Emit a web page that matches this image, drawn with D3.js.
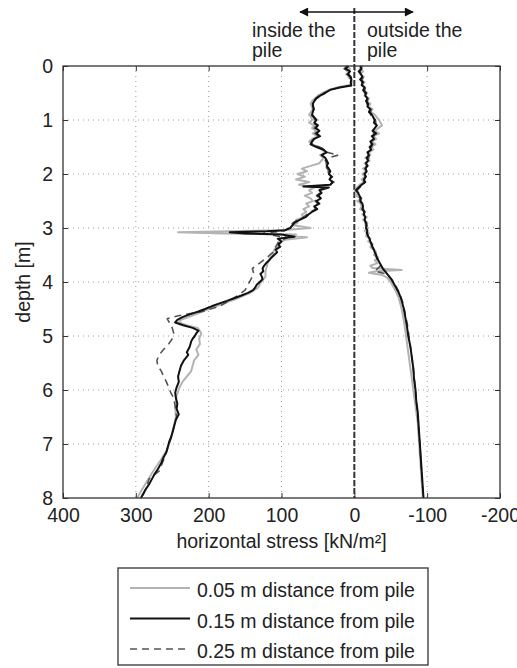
<!DOCTYPE html>
<html>
<head>
<meta charset="utf-8">
<style>
  html, body { margin: 0; padding: 0; background: #fff; }
  svg { display: block; font-family: "Liberation Sans", Arial, sans-serif; }
</style>
</head>
<body>
<div id="chart"></div>
<script src="https://cdn.jsdelivr.net/npm/d3@7"></script>
<script>
// [depth m, horizontal stress kN/m2]; positive = inside the pile, negative = outside
var inside05 = [[0,12],[0.05,6],[0.1,10],[0.15,7],[0.2,8],[0.25,5],[0.3,3],[0.35,6],[0.4,25],[0.45,36],[0.5,44],[0.55,50],[0.6,54],[0.65,58],[0.7,60],[0.8,57],[0.9,62],[0.95,59],[1,58],[1.05,62],[1.1,55],[1.15,58],[1.2,52],[1.25,57],[1.3,50],[1.35,58],[1.4,62],[1.45,57],[1.5,50],[1.55,45],[1.6,40],[1.65,47],[1.7,42],[1.75,45],[1.8,48],[1.85,60],[1.9,72],[1.95,65],[2,78],[2.05,68],[2.1,80],[2.15,62],[2.2,76],[2.25,55],[2.3,62],[2.35,58],[2.4,68],[2.45,60],[2.5,57],[2.55,66],[2.6,62],[2.65,70],[2.7,66],[2.75,72],[2.8,70],[2.85,80],[2.9,78],[2.95,84],[3,60],[3.04,100],[3.08,242],[3.1,180],[3.12,80],[3.15,95],[3.17,65],[3.22,95],[3.25,100],[3.3,103],[3.4,110],[3.5,112],[3.6,118],[3.7,120],[3.8,122],[3.9,122],[4,128],[4.1,132],[4.2,143],[4.3,160],[4.4,180],[4.5,200],[4.6,218],[4.7,238],[4.75,241],[4.8,230],[4.85,215],[4.95,210],[5.05,213],[5.15,212],[5.25,217],[5.35,214],[5.45,220],[5.55,222],[5.65,224],[5.75,230],[5.85,236],[5.95,240],[6.1,244],[6.3,246],[6.5,245],[6.7,248],[6.9,252],[7.1,257],[7.3,266],[7.5,276],[7.7,285],[7.9,294],[8,298]];

var inside15 = [[0,8],[0.05,12],[0.1,6],[0.15,9],[0.2,5],[0.25,4],[0.3,5],[0.36,4],[0.4,20],[0.44,33],[0.5,40],[0.55,47],[0.6,52],[0.65,55],[0.7,57],[0.8,56],[0.9,58],[0.95,55],[1,52],[1.05,55],[1.1,50],[1.15,53],[1.2,48],[1.25,52],[1.3,47],[1.35,55],[1.4,58],[1.45,60],[1.5,52],[1.55,42],[1.6,38],[1.65,45],[1.7,40],[1.75,38],[1.8,36],[1.85,38],[1.9,35],[1.95,33],[2,35],[2.05,31],[2.1,34],[2.15,30],[2.2,33],[2.23,70],[2.25,35],[2.3,48],[2.35,45],[2.4,50],[2.45,46],[2.5,52],[2.55,48],[2.6,55],[2.65,51],[2.7,58],[2.75,63],[2.8,67],[2.85,75],[2.9,82],[2.95,85],[3,88],[3.04,95],[3.06,120],[3.08,171],[3.1,150],[3.12,100],[3.16,82],[3.2,105],[3.25,100],[3.3,104],[3.35,102],[3.4,108],[3.45,106],[3.5,110],[3.55,114],[3.6,117],[3.65,121],[3.7,124],[3.75,126],[3.8,125],[3.85,129],[3.9,127],[3.95,126],[4,130],[4.05,134],[4.1,136],[4.15,139],[4.2,146],[4.25,155],[4.3,165],[4.35,175],[4.4,186],[4.45,196],[4.5,205],[4.55,215],[4.6,226],[4.65,236],[4.7,243],[4.75,246],[4.8,235],[4.85,222],[4.9,214],[4.95,217],[5,219],[5.05,222],[5.1,224],[5.2,226],[5.3,230],[5.35,228],[5.45,234],[5.55,238],[5.65,240],[5.75,242],[5.85,241],[5.95,244],[6.05,246],[6.15,245],[6.25,243],[6.35,244],[6.45,241],[6.55,245],[6.65,247],[6.75,249],[6.85,251],[6.95,254],[7.05,256],[7.15,258],[7.25,262],[7.35,265],[7.45,269],[7.55,274],[7.65,278],[7.75,282],[7.85,287],[7.95,291],[8,293]];

var inside25 = [[0,10],[0.05,14],[0.1,8],[0.15,11],[0.2,6],[0.25,7],[0.3,4],[0.36,5],[0.4,22],[0.45,34],[0.5,42],[0.55,48],[0.6,53],[0.65,56],[0.7,58],[0.8,55],[0.9,60],[0.95,56],[1,54],[1.05,57],[1.1,52],[1.15,55],[1.2,50],[1.25,54],[1.3,49],[1.35,56],[1.4,59],[1.45,58],[1.5,48],[1.55,40],[1.6,37],[1.65,22],[1.7,36],[1.75,40],[1.8,38],[1.85,42],[1.9,37],[1.95,35],[2,38],[2.05,30],[2.1,36],[2.15,28],[2.2,34],[2.25,40],[2.3,50],[2.35,47],[2.4,52],[2.45,48],[2.5,54],[2.55,50],[2.6,56],[2.65,53],[2.7,60],[2.75,65],[2.8,70],[2.85,78],[2.9,84],[2.95,87],[3,90],[3.05,96],[3.1,125],[3.14,110],[3.18,92],[3.25,104],[3.35,108],[3.45,112],[3.55,120],[3.65,130],[3.75,140],[3.85,138],[3.95,142],[4.05,146],[4.15,150],[4.25,160],[4.35,172],[4.45,185],[4.55,210],[4.62,240],[4.68,257],[4.75,254],[4.85,250],[4.95,248],[5.05,250],[5.15,255],[5.25,262],[5.35,268],[5.45,271],[5.55,270],[5.65,265],[5.75,262],[5.85,258],[5.95,255],[6.05,252],[6.15,248],[6.3,246],[6.5,244],[6.7,248],[6.9,252],[7.1,257],[7.3,262],[7.5,268],[7.65,282],[7.8,285],[8,292]];

var outside05 = [[0,-12],[0.05,-7],[0.1,-12],[0.15,-8],[0.2,-13],[0.25,-9],[0.3,-14],[0.35,-11],[0.4,-15],[0.45,-13],[0.5,-18],[0.55,-14],[0.6,-20],[0.65,-17],[0.7,-22],[0.75,-19],[0.8,-25],[0.85,-22],[0.9,-28],[0.95,-31],[1,-34],[1.05,-36],[1.1,-38],[1.15,-33],[1.2,-28],[1.25,-34],[1.3,-26],[1.35,-30],[1.4,-24],[1.45,-29],[1.5,-23],[1.55,-26],[1.6,-20],[1.65,-22],[1.7,-15],[1.75,-21],[1.8,-14],[1.85,-19],[1.9,-12],[1.95,-16],[2,-11],[2.05,-15],[2.1,-10],[2.15,-13],[2.2,-7],[2.25,-4],[2.3,-1],[2.35,-6],[2.4,-2],[2.45,-10],[2.5,-4],[2.55,-9],[2.6,-10],[2.65,-8],[2.7,-15],[2.75,-11],[2.8,-17],[2.85,-12],[2.9,-18],[2.95,-15],[3,-19],[3.05,-14],[3.1,-20],[3.15,-16],[3.2,-22],[3.25,-19],[3.3,-25],[3.35,-22],[3.4,-26],[3.45,-30],[3.5,-27],[3.55,-33],[3.6,-28],[3.65,-32],[3.7,-22],[3.74,-25],[3.78,-65],[3.8,-30],[3.83,-20],[3.87,-38],[3.92,-45],[4,-50],[4.1,-54],[4.2,-58],[4.3,-61],[4.4,-63],[4.5,-65],[4.65,-67],[4.8,-69],[5,-71],[5.2,-73],[5.4,-75],[5.6,-77],[5.8,-79],[6,-81],[6.2,-83],[6.4,-85],[6.6,-87],[6.8,-88],[7,-89],[7.2,-90],[7.4,-91],[7.6,-92],[7.8,-93],[8,-94]];

var outside15 = [[0,-8],[0.05,-10],[0.1,-6],[0.15,-9],[0.2,-11],[0.25,-8],[0.3,-12],[0.35,-10],[0.4,-14],[0.45,-12],[0.5,-16],[0.55,-15],[0.6,-18],[0.65,-16],[0.7,-19],[0.75,-18],[0.8,-22],[0.85,-20],[0.9,-24],[0.95,-26],[1,-28],[1.05,-27],[1.1,-31],[1.15,-28],[1.2,-25],[1.25,-30],[1.3,-24],[1.35,-27],[1.4,-22],[1.45,-25],[1.5,-21],[1.55,-23],[1.6,-18],[1.65,-20],[1.7,-17],[1.75,-19],[1.8,-16],[1.85,-18],[1.9,-15],[1.95,-17],[2,-14],[2.05,-16],[2.1,-13],[2.15,-15],[2.2,-10],[2.25,-6],[2.3,-2],[2.35,-5],[2.4,-7],[2.45,-9],[2.5,-8],[2.55,-11],[2.6,-12],[2.65,-11],[2.7,-14],[2.75,-13],[2.8,-15],[2.85,-14],[2.9,-16],[2.95,-17],[3,-16],[3.05,-18],[3.1,-17],[3.15,-19],[3.2,-21],[3.25,-22],[3.3,-24],[3.35,-25],[3.4,-27],[3.45,-28],[3.5,-30],[3.55,-31],[3.6,-33],[3.65,-35],[3.7,-37],[3.75,-39],[3.8,-42],[3.85,-45],[3.9,-48],[3.95,-51],[4,-53],[4.1,-57],[4.2,-61],[4.3,-64],[4.4,-66],[4.5,-68],[4.65,-70],[4.8,-72],[5,-74],[5.2,-77],[5.4,-79],[5.6,-81],[5.8,-82],[6,-84],[6.2,-85],[6.4,-87],[6.6,-88],[6.8,-89],[7,-90],[7.2,-91],[7.4,-92],[7.6,-93],[7.8,-94],[8,-95]];

var outside25 = [[0,-10],[0.1,-8],[0.2,-12],[0.3,-10],[0.4,-15],[0.5,-14],[0.6,-19],[0.7,-17],[0.8,-23],[0.9,-22],[1,-29],[1.1,-30],[1.2,-26],[1.3,-27],[1.4,-23],[1.5,-24],[1.6,-19],[1.7,-20],[1.8,-17],[1.9,-16],[2,-15],[2.1,-14],[2.2,-11],[2.3,-4],[2.4,-6],[2.5,-9],[2.6,-12],[2.7,-13],[2.8,-15],[2.9,-15],[3,-17],[3.1,-18],[3.2,-20],[3.3,-23],[3.4,-26],[3.5,-29],[3.6,-32],[3.7,-36],[3.8,-28],[3.85,-44],[3.9,-48],[4,-54],[4.2,-62],[4.4,-67],[4.6,-70],[4.8,-73],[5,-75],[5.3,-78],[5.6,-81],[6,-84],[6.5,-87],[7,-90],[7.5,-92],[8,-95]];

var xTicks = [400, 300, 200, 100, 0, -100, -200];
var yTicks = [0, 1, 2, 3, 4, 5, 6, 7, 8];
var legendLabels = ["0.05 m distance from pile", "0.15 m distance from pile", "0.25 m distance from pile"];

var width = 517, height = 668;
var m = {left: 63, right: 500, top: 66, bottom: 498};
var font = "19.5px 'Liberation Sans', Arial, sans-serif";
var ink = "#222";

var svg = d3.select("#chart").append("svg")
  .attr("width", width).attr("height", height);

var x = d3.scaleLinear().domain([400, -200]).range([m.left, m.right]);
var y = d3.scaleLinear().domain([0, 8]).range([m.top, m.bottom]);

// dotted grid
var grid = svg.append("g").attr("stroke", "#9a9a9a").attr("stroke-width", 1)
  .attr("stroke-dasharray", "1,4");
grid.selectAll("line.v").data(xTicks.slice(1, -1)).join("line")
  .attr("x1", d => x(d)).attr("x2", d => x(d))
  .attr("y1", m.top).attr("y2", m.bottom);
grid.selectAll("line.h").data(yTicks.slice(1, -1)).join("line")
  .attr("x1", m.left).attr("x2", m.right)
  .attr("y1", d => y(d)).attr("y2", d => y(d));

// axes with inward ticks
function styleAxis(g, labels) {
  g.select(".domain").remove();
  g.selectAll(".tick line").attr("stroke", "#333");
  g.selectAll(".tick text").style("font", font).attr("fill", ink);
  if (!labels) g.selectAll(".tick text").remove();
}
svg.append("g").attr("transform", "translate(0," + m.bottom + ")")
  .call(d3.axisBottom(x).tickValues(xTicks).tickSize(-5).tickPadding(10).tickFormat(d => String(d)))
  .call(g => styleAxis(g, true));
svg.append("g").attr("transform", "translate(0," + m.top + ")")
  .call(d3.axisTop(x).tickValues(xTicks).tickSize(-5))
  .call(g => styleAxis(g, false));
svg.append("g").attr("transform", "translate(" + m.left + ",0)")
  .call(d3.axisLeft(y).tickValues(yTicks).tickSize(-5).tickPadding(10))
  .call(g => styleAxis(g, true));
svg.append("g").attr("transform", "translate(" + m.right + ",0)")
  .call(d3.axisRight(y).tickValues(yTicks).tickSize(-5))
  .call(g => styleAxis(g, false));

// pile wall
svg.append("line")
  .attr("x1", x(0)).attr("x2", x(0)).attr("y1", 8).attr("y2", m.bottom)
  .attr("stroke", "#333").attr("stroke-width", 2).attr("stroke-dasharray", "6,2");

// curves
var line = d3.line().x(d => x(d[1])).y(d => y(d[0]));
var styles = [
  {data: [inside05, outside05], stroke: "#b3b3b3", w: 2, dash: null},
  {data: [inside25, outside25], stroke: "#555", w: 1.6, dash: "7,5"},
  {data: [inside15, outside15], stroke: "#111", w: 2, dash: null}
];
styles.forEach(function(s) {
  svg.append("g").selectAll("path").data(s.data).join("path")
    .attr("d", line)
    .attr("fill", "none")
    .attr("stroke", s.stroke)
    .attr("stroke-width", s.w)
    .attr("stroke-linejoin", "round")
    .attr("stroke-dasharray", s.dash);
});

// frame
svg.append("rect")
  .attr("x", m.left).attr("y", m.top)
  .attr("width", m.right - m.left).attr("height", m.bottom - m.top)
  .attr("fill", "none").attr("stroke", "#333").attr("stroke-width", 1.3);

// axis titles
svg.append("text")
  .attr("x", (m.left + m.right) / 2).attr("y", 548)
  .attr("text-anchor", "middle").style("font", font).attr("fill", ink)
  .text("horizontal stress [kN/m²]");
svg.append("text")
  .attr("transform", "translate(30," + ((m.top + m.bottom) / 2) + ") rotate(-90)")
  .attr("text-anchor", "middle").style("font", font).attr("fill", ink)
  .text("depth [m]");

// inside / outside annotation with double arrow
svg.append("defs").append("marker")
  .attr("id", "head").attr("viewBox", "0 0 10 10")
  .attr("refX", 9).attr("refY", 5)
  .attr("markerWidth", 12).attr("markerHeight", 9)
  .attr("markerUnits", "userSpaceOnUse")
  .attr("orient", "auto-start-reverse")
  .append("path").attr("d", "M0,0 L10,5 L0,10 z").attr("fill", "#111");
svg.append("line")
  .attr("x1", 300).attr("x2", 413).attr("y1", 12).attr("y2", 12)
  .attr("stroke", "#111").attr("stroke-width", 1.6)
  .attr("marker-start", "url(#head)").attr("marker-end", "url(#head)");

var notes = [
  {x: 252, y: 37, t: "inside the"}, {x: 252, y: 57, t: "pile"},
  {x: 367, y: 37, t: "outside the"}, {x: 367, y: 57, t: "pile"}
];
svg.append("g").selectAll("text").data(notes).join("text")
  .attr("x", d => d.x).attr("y", d => d.y)
  .style("font", font).attr("fill", ink)
  .text(d => d.t);

// legend
var lg = svg.append("g");
lg.append("rect")
  .attr("x", 118).attr("y", 568).attr("width", 310).attr("height", 97)
  .attr("fill", "#fff").attr("stroke", "#333").attr("stroke-width", 1.3);
var legendStyles = [styles[0], styles[2], styles[1]];
var row = lg.selectAll("g").data(legendLabels).join("g")
  .attr("transform", (d, i) => "translate(0," + (588 + i * 30.5) + ")");
row.append("line")
  .attr("x1", 130).attr("x2", 190)
  .attr("stroke", (d, i) => legendStyles[i].stroke)
  .attr("stroke-width", (d, i) => legendStyles[i].w)
  .attr("stroke-dasharray", (d, i) => legendStyles[i].dash);
row.append("text")
  .attr("x", 197).attr("y", 9)
  .style("font", font).attr("fill", ink)
  .text(d => d);
</script>
</body>
</html>
